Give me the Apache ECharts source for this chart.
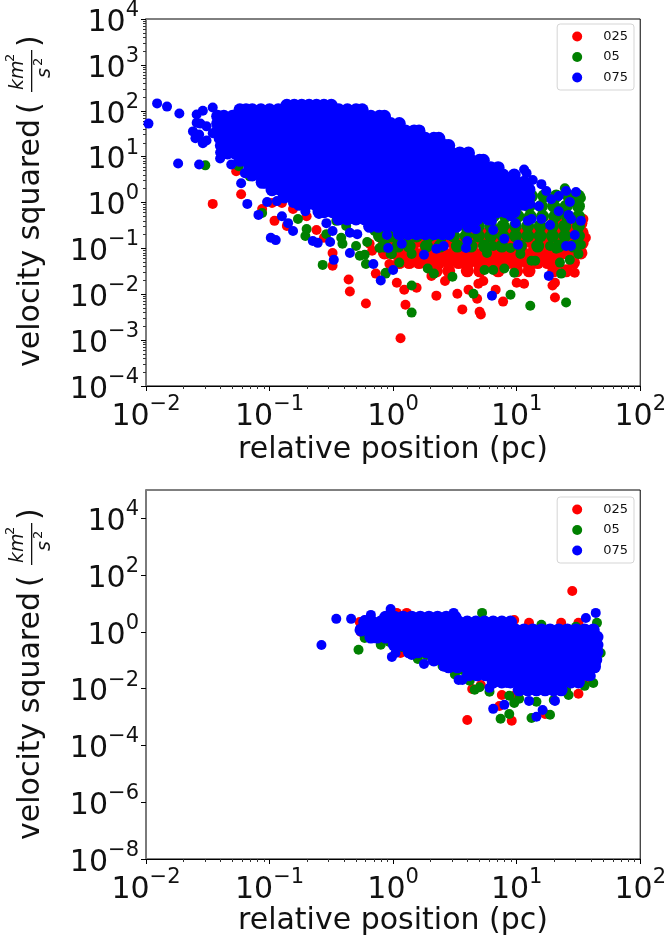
<!DOCTYPE html>
<html><head><meta charset="utf-8">
<style>html,body{margin:0;padding:0;background:#fff}#c{width:669px;height:942px}</style>
<script src="https://cdn.jsdelivr.net/npm/echarts@6/dist/echarts.min.js"></script>
</head><body><div id="c"></div>
<script>
// All marks are stored as [log10 position, log10 velocity squared].
const seriesNames = ['025','05','075'];
const xExponents = [-2,-1,0,1,2];
const yExponentsTop = [-4,-3,-2,-1,0,1,2,3,4];
const yExponentsBottom = [-8,-6,-4,-2,0,2,4];

// dense bands, one row per y exponent: [y, [x, x, ...]]
const blueTopRows = [
[2.12,[-.86,-.8,-.74,-.68,-.62,-.56,-.5]],
[2.02,[-1.24,-1.19,-1.14,-1.07,-1,-.93,-.86,-.79,-.72,-.65,-.58,-.51,-.44,-.37,-.3,-.25]],
[1.88,[-1.42,-1.37,-1.3,-1.23,-1.16,-1.09,-1.02,-.95,-.88,-.81,-.74,-.67,-.6,-.53,-.46,-.39,-.32,-.25,-.18,-.11,-.07]],
[1.72,[-1.42,-1.35,-1.28,-1.21,-1.14,-1.07,-1,-.93,-.86,-.79,-.72,-.65,-.58,-.51,-.44,-.37,-.3,-.23,-.16,-.09,-.02,.05]],
[1.56,[-1.42,-1.37,-1.3,-1.23,-1.16,-1.09,-1.02,-.95,-.88,-.81,-.74,-.67,-.6,-.53,-.46,-.39,-.32,-.25,-.18,-.11,-.04,.03,.1,.17,.21]],
[1.4,[-1.4,-1.35,-1.28,-1.21,-1.14,-1.07,-1,-.93,-.86,-.79,-.72,-.65,-.58,-.51,-.44,-.37,-.3,-.23,-.16,-.09,-.02,.05,.12,.19,.26,.33,.37]],
[1.24,[-1.39,-1.33,-1.26,-1.19,-1.12,-1.05,-.98,-.91,-.84,-.77,-.7,-.63,-.56,-.49,-.42,-.35,-.28,-.21,-.14,-.07,0,.07,.14,.21,.28,.35,.42,.45]],
[1.08,[-1.34,-1.28,-1.21,-1.14,-1.07,-1,-.93,-.86,-.79,-.72,-.65,-.58,-.51,-.44,-.37,-.3,-.23,-.16,-.09,-.02,.05,.12,.19,.26,.33,.4,.47,.54,.61]],
[.92,[-1.24,-1.19,-1.12,-1.05,-.98,-.91,-.84,-.77,-.7,-.63,-.56,-.49,-.42,-.35,-.28,-.21,-.14,-.07,0,.07,.14,.21,.28,.35,.42,.49,.56,.63,.7,.73]],
[.76,[-1.16,-1.1,-1.03,-.96,-.89,-.82,-.75,-.68,-.61,-.54,-.47,-.4,-.33,-.26,-.19,-.12,-.05,.02,.09,.16,.23,.3,.37,.44,.51,.58,.65,.72,.79,.85]],
[.6,[-1.14,-1.07,-1,-.93,-.86,-.79,-.72,-.65,-.58,-.51,-.44,-.37,-.3,-.23,-.16,-.09,-.02,.05,.12,.19,.26,.33,.4,.47,.54,.61,.68,.75,.82,.89,.98]],
[.44,[-1.06,-1.03,-.96,-.89,-.82,-.75,-.68,-.61,-.54,-.47,-.4,-.33,-.26,-.19,-.12,-.05,.02,.09,.16,.23,.3,.37,.44,.51,.58,.65,.72,.79,.86,.93,1,1.06]],
[.28,[-.98,-.91,-.84,-.77,-.7,-.63,-.56,-.49,-.42,-.35,-.28,-.21,-.14,-.07,0,.07,.14,.21,.28,.35,.42,.49,.56,.63,.7,.77,.84,.91,.98,1.05,1.1]],
[.12,[-.88,-.82,-.75,-.68,-.61,-.54,-.47,-.4,-.33,-.26,-.19,-.12,-.05,.02,.09,.16,.23,.3,.37,.44,.51,.58,.65,.72,.79,.86,.93,1,1.07,1.1]],
[-.04,[-.76,-.7,-.63,-.56,-.49,-.42,-.35,-.28,-.21,-.14,-.07,0,.07,.14,.21,.28,.35,.42,.49,.56,.63,.7,.77,.84,.91,.98,1.06]],
[-.2,[-.6,-.56,-.49,-.42,-.35,-.28,-.21,-.14,-.07,0,.07,.14,.21,.28,.35,.42,.49,.56,.63,.7,.77,.84,.91,.98]],
[-.36,[-.44,-.37,-.3,-.23,-.16,-.09,-.02,.05,.12,.19,.26,.33,.4,.47,.54,.61,.68,.77]],
[-.52,[-.19,-.12,-.05,.02,.09,.16,.23,.3,.37,.44,.51,.61]],
[-.68,[.05,.12,.19,.26,.33,.4,.45]]
];
const blueTopLoose = [[-1.98,1.72],[-1.91,2.16],[-1.83,2.09],[-1.73,1.94],[-1.59,1.92],[-1.54,2],[-1.46,2.07],[-1.59,1.74],[-1.56,1.72],[-1.51,1.66],[-1.62,1.55],[-1.57,1.48],[-1.6,1.4],[-1.54,1.29],[-1.51,1.35],[-1.46,1.51],[-1.74,.85],[-1.57,.83],[-1.31,.83],[-1.4,1.09],[-1.4,.96],[-1.2,.64],[-1.23,.42],[-1.18,-.03],[-1.09,-.27],[-1.02,.01],[-.94,.03],[-.98,.25],[-.9,-.3],[-.85,-.45],[-.81,-.62],[-.99,-.77],[-.95,-.82],[-.71,-.19],[-.6,-.25],[-.65,-.84],[-.61,-.88],[-.51,-.86],[-.49,-.62],[-.35,-1.1],[-.48,-1.25],[-.16,-1.34],[0,-1.47],[-.1,-1.7],[-.05,-.71],[-.04,-.99],[-.35,-.66],[-.29,-.69],[-.54,-.45],[-.81,-.01],[.07,-.9],[.25,-1.14],[.35,-1.01],[.41,-.95],[.59,-.99],[.9,-.79],[1.01,-.92],[.8,-2.03],[1.26,-1.6],[1.4,-.95],[1.44,-.95],[1.47,-.71],[1.52,-.4],[1.44,-.36],[1.42,-.27],[1.12,-.36],[1.09,-.4],[1.27,-.49],[1.2,-.36],[.81,-.6],[.67,-.58],[.6,-.84],[.18,-.64],[1.48,.23],[1.4,.25],[1.43,.01],[1.34,.14],[1.28,.07],[1.11,-.03],[1.2,.4],[1.13,.49],[1.06,.72],[1.08,.64],[.99,-.45],[.8,-.4],[.94,-.08],[1.18,-.08],[1.34,-.19],[.95,-.3],[1.24,.25]];

const greenTopRows = [
[.14,[1.02,1.12,1.22,1.32,1.42,1.5]],
[-.08,[.9,1,1.1,1.2,1.3,1.4,1.5]],
[-.3,[.61,.71,.81,.91,1.01,1.11,1.21,1.31,1.41,1.5]],
[-.51,[.29,.39,.49,.59,.69,.79,.89,.99,1.09,1.19,1.29,1.39,1.5]],
[-.73,[-.11,-.01,.09,.19,.29,.39,.49,.59,.69,.79,.89,.99,1.09,1.19,1.29,1.39,1.5]],
[-.95,[-.07,.04,.13,.27,.38,.52,.63,.74,.88,1.03,1.17,1.34,1.46]]
];
const greenTopLoose = [[-.06,-1.55],[.05,-1.31],[.15,-1.81],[.15,-2.4],[.28,-1.44],[.33,-1.55],[.48,-1.62],[.65,-1.99],[.74,-1.47],[.81,-1.47],[.9,-1.44],[.98,-1.53],[.95,-2.01],[1.11,-2.25],[1.4,-2.18],[1.36,-1.55],[1.12,-1.27],[1.15,-1.27],[1.35,-1.31],[1.43,-1.25],[1.5,-1.12],[1.52,-.92],[1.32,-1.01],[1.27,-.95],[1.03,-1.12],[.95,-.99],[.76,-1.1],[.81,-.95],[-.01,-1.12],[.15,-1.12],[1.52,.1],[1.39,.31],[1.5,-.03],[-1.4,1.4],[-1.52,.81],[-1.25,.79],[-1.15,.75],[-1.16,.57],[-.92,.4],[-1.06,-.23],[-.77,-.36],[-.7,-.58],[-.71,-.73],[-.57,-1.36],[-.54,-.69],[-.41,-.9],[-.42,-.77],[-.3,-.95],[-.22,-1.34],[-.27,-1.16],[-.23,-1.14],[-.06,-1.53],[-.11,-.99],[-.21,-.86],[-.02,-1.12],[-.46,-.4],[-.38,-.51],[-.15,-.62]];

const redTopRows = [
[-.45,[1.3,1.38,1.46,1.52]],
[-.66,[.61,.69,.77,.85,.93,1.01,1.09,1.17,1.25,1.33,1.41,1.49,1.53]],
[-.88,[-.07,.01,.09,.17,.25,.33,.41,.49,.57,.65,.73,.81,.89,.97,1.05,1.13,1.21,1.29,1.37,1.45,1.53]],
[-1.1,[-.07,.01,.09,.17,.25,.33,.41,.49,.57,.65,.73,.81,.89,.97,1.05,1.13,1.21,1.29,1.37,1.45,1.52]],
[-1.31,[.05,.13,.21,.29,.37,.45,.53,.61,.69,.77,.85,.93,1.01,1.09,1.17,1.25,1.33,1.46]],
[-1.49,[.35,.45,.6,.7,.85,1,1.1,1.3,1.4]]
];
const redTopLoose = [[.03,-1.75],[.09,-1.9],[.19,-1.86],[.35,-2.03],[.52,-1.99],[.61,-1.9],[.68,-2.1],[.69,-1.77],[.73,-1.71],[.83,-1.9],[.89,-2.16],[.1,-2.23],[.56,-2.33],[.7,-2.38],[.71,-2.44],[.06,-2.96],[1.31,-2.07],[1.29,-1.81],[1.31,-1.75],[1,-1.75],[1.06,-1.77],[.42,-1.71],[1.47,-1.53],[.31,-1.6],[-1.46,-.03],[-1.23,.18],[-1.27,.68],[-.96,-.4],[-.86,-.51],[-1.06,-.14],[-.98,-.01],[-.9,-.01],[-.81,-.14],[-.7,-.3],[-.62,-.6],[-.49,-1.1],[-.49,-1.38],[-.36,-1.68],[-.14,-1.55],[-.03,-1.34],[-.19,-.9],[-.17,-1.05],[-.05,-1.12],[-.56,-.77],[-.96,.4],[1.56,-.77],[1.54,-.36],[-.35,-1.94],[-.22,-2.2]];

const blueBottomRows = [
[.52,[-.06,.01,.08,.15,.22,.29,.36,.43,.5]],
[.35,[-.23,-.17,-.1,-.03,.04,.11,.18,.25,.32,.39,.46,.53,.6,.67,.74,.81,.88,.95]],
[.07,[-.26,-.2,-.13,-.06,.01,.08,.15,.22,.29,.36,.43,.5,.57,.64,.71,.78,.85,.92,.99,1.06,1.13,1.2,1.27,1.34,1.41,1.48,1.55,1.62]],
[-.18,[-.18,-.13,-.06,.01,.08,.15,.22,.29,.36,.43,.5,.57,.64,.71,.78,.85,.92,.99,1.06,1.13,1.2,1.27,1.34,1.41,1.48,1.55,1.62,1.65]],
[-.46,[.01,.08,.15,.22,.29,.36,.43,.5,.57,.64,.71,.78,.85,.92,.99,1.06,1.13,1.2,1.27,1.34,1.41,1.48,1.55,1.62,1.65]],
[-.7,[.13,.2,.27,.34,.41,.48,.55,.62,.69,.76,.83,.9,.97,1.04,1.11,1.18,1.25,1.32,1.39,1.46,1.53,1.6,1.65]],
[-.99,[.33,.4,.47,.54,.61,.68,.75,.82,.89,.96,1.03,1.1,1.17,1.24,1.31,1.38,1.45,1.52,1.59,1.64]],
[-1.23,[.45,.52,.59,.66,.73,.8,.87,.94,1.01,1.08,1.15,1.22,1.29,1.36,1.43,1.5,1.57,1.63]],
[-1.51,[.61,.68,.75,.82,.89,.96,1.03,1.1,1.17,1.24,1.31,1.38,1.45,1.52,1.58]],
[-1.76,[.81,.88,.95,1.02,1.09,1.16,1.23,1.3,1.37,1.44,1.5]],
[-2.04,[1.02,1.09,1.16,1.23,1.3,1.36]]
];
const blueBottomLoose = [[-.58,-.46],[-.46,.46],[-.34,.46],[-.02,.81],[1.64,.67],[1.56,.49],[.49,.67],[-.18,.6],[-.23,.42],[-.22,.11],[-.17,-.21],[-.01,-.88],[.02,-.74],[.15,-.81],[.25,-1.13],[.33,-.95],[.41,-1.23],[.53,-1.69],[.56,-1.69],[.78,-1.97],[.9,-2.57],[.81,-2.71],[1.16,-2.99],[1.21,-2.75],[1.1,-2.43],[1.31,-2.43],[1.6,-1.55],[1.64,-1.16],[.92,-1.8]];
const greenBottomLoose = [[-.28,-.63],[.72,.67],[-.23,-.21],[-.03,-.35],[.07,-.53],[.27,-.81],[.56,-1.34],[.66,-2.04],[.78,-2.11],[.94,-2.25],[.98,-2.5],[.94,-2.89],[.87,-3.06],[1.12,-3.03],[1.27,-2.92],[1.16,-2.46],[1.55,-1.9],[1.62,-1.8],[1.68,-.74],[1.2,.25],[1.48,.18],[1.65,.32],[1.42,-2.22],[.2,-.95],[.4,-1.2],[.5,-1.5],[.62,-1.72],[.7,-1.95],[1.02,-2.35],[1.3,-2.4],[1.4,-2.05],[1.5,-1.75],[-.1,-.45]];
const redBottomLoose = [[1.45,1.44],[.6,-3.1],[.96,-3.13],[.86,-2.61],[.88,-2.22],[.64,-2.01],[.71,-1.87],[.99,-2.22],[1.5,-2.18],[1.55,-1.76],[1.23,-2.89],[-.07,-.25],[-.26,0],[-.27,.35],[.06,-.74],[.98,.42],[1.1,.32],[1.36,.32],[1.5,.32],[.11,.67],[.03,.67],[.37,-.99]];

const unlog = p => [Math.pow(10,p[0]), Math.pow(10,p[1])];
const flat = rows => rows.flatMap(r => r[1].map(x => [x, r[0]]));

const pow = e => Math.pow(10, e);
const minorsOf = exps => {
  const out = [];
  for (let i = 0; i < exps.length - 1; i++) for (let m = 2; m < 10; m++) out.push(m * pow(exps[i]));
  return out;
};
const fmt = v => {
  const e = Math.round(Math.log10(v));
  return '{b|10}{s|' + String(e).replace('-', '\u2212') + '}';
};
const labelRich = {
  b:{fontFamily:'DejaVu Sans',fontSize:30,color:'#111',lineHeight:38,verticalAlign:'bottom'},
  s:{fontFamily:'DejaVu Sans',fontSize:21,color:'#111',lineHeight:38,verticalAlign:'top'}
};

function axisPair(type, min, max, exps, grid, hasMinor) {
  const common = {type:'log', logBase:10, min, max, gridIndex:grid, splitLine:{show:false}, minorTick:{show:false}, minorSplitLine:{show:false}};
  const isY = type === 'y';
  const main = Object.assign({}, common, {
    axisLine:{show:true, onZero:false, lineStyle:{color:isY?'#7a7a7a':'#000', width:isY?2:1}},
    axisTick:{show:true, length:5, lineStyle:{color:'#000', width:1}, customValues:exps.map(pow)},
    axisLabel:{show:true, margin:isY?7:8, formatter:fmt, rich:labelRich, customValues:exps.map(pow), hideOverlap:false, showMinLabel:true, showMaxLabel:true}
  });
  const minor = Object.assign({}, common, {
    axisLine:{show:false},
    axisTick:{show:hasMinor, length:3, lineStyle:{color:'#333', width:1}, customValues:minorsOf(exps)},
    axisLabel:{show:false},
    position:isY?'left':'bottom'
  });
  return [main, minor];
}

const LAYER = {'025':2,'05':3,'075':4};
const scatter = (name, color, data, grid, size) => ({
  type:'scatter', name, z:LAYER[name], data:data.map(unlog), xAxisIndex:grid*2, yAxisIndex:grid*2,
  symbol:'circle', symbolSize:size, itemStyle:{color, opacity:1}, animation:false, silent:true
});

const legend = top => ({
  data:seriesNames, orient:'vertical', right:35, top, selectedMode:false,
  itemWidth:10, itemHeight:10, itemGap:7.5, icon:'circle',
  padding:[6,6,6,15], borderColor:'#d5d5d5', borderWidth:1, borderRadius:3, backgroundColor:'#fff',
  textStyle:{fontFamily:'DejaVu Sans',fontSize:13,color:'#111',padding:[0,0,0,16]}
});

const axisName = (text, y) => ({type:'text', x:393, y, style:{text, fontFamily:'DejaVu Sans', fontSize:30, fill:'#111', align:'center', verticalAlign:'middle'}, silent:true});

const yLabel = (dy) => {
  const t = (text, x, y, size, italic) => ({type:'text', x, y:y+dy, rotation:Math.PI/2, silent:true,
    style:{text, fontFamily:'DejaVu Sans', fontSize:size, fontStyle:italic?'italic':'normal', fill:'#111', align:'left', verticalAlign:'middle'}});
  return [
    t('velocity squared', 31, 367, 30),
    t('(', 31, 114, 30),
    t('km', 18, 90, 19, true),
    t('2', 11, 62, 13),
    t('s', 45, 78, 19, true),
    t('2', 39, 66, 13),
    {type:'rect', silent:true, shape:{x:31, y:50+dy, width:1.3, height:42}, style:{fill:'#111'}},
    t(')', 31, 47, 30)
  ];
};

const DENSE = 13, DOT = 10;
const option = {
  backgroundColor:'#fff',
  animation:false,
  grid:[
    {left:146, top:17, width:496, height:369, show:true, borderColor:'#000', borderWidth:1, backgroundColor:'transparent'},
    {left:146, top:490, width:496, height:369, show:true, borderColor:'#000', borderWidth:1, backgroundColor:'transparent'}
  ],
  xAxis:[...axisPair('x',0.01,100,xExponents,0,true), ...axisPair('x',0.01,100,xExponents,1,true)],
  yAxis:[...axisPair('y',1e-4,1e4,yExponentsTop,0,true), ...axisPair('y',1e-8,1e5,yExponentsBottom,1,false)],
  legend:[legend(24), legend(497)],
  series:[
    scatter('025','#ff0000',flat(redTopRows),0,DENSE),
    scatter('025','#ff0000',redTopLoose,0,DOT),
    scatter('05','#008000',flat(greenTopRows),0,DENSE),
    scatter('05','#008000',greenTopLoose,0,DOT),
    scatter('075','#0000ff',flat(blueTopRows),0,DENSE),
    scatter('075','#0000ff',blueTopLoose,0,DOT),
    scatter('025','#ff0000',redBottomLoose,1,DOT),
    scatter('05','#008000',greenBottomLoose,1,DOT),
    scatter('075','#0000ff',flat(blueBottomRows),1,DENSE),
    scatter('075','#0000ff',blueBottomLoose,1,DOT)
  ],
  graphic:[axisName('relative position (pc)',450), axisName('relative position (pc)',921), ...yLabel(0), ...yLabel(473)]
};
const chart = echarts.init(document.getElementById('c'), null, {renderer:'canvas'});
chart.setOption(option);
</script></body></html>
